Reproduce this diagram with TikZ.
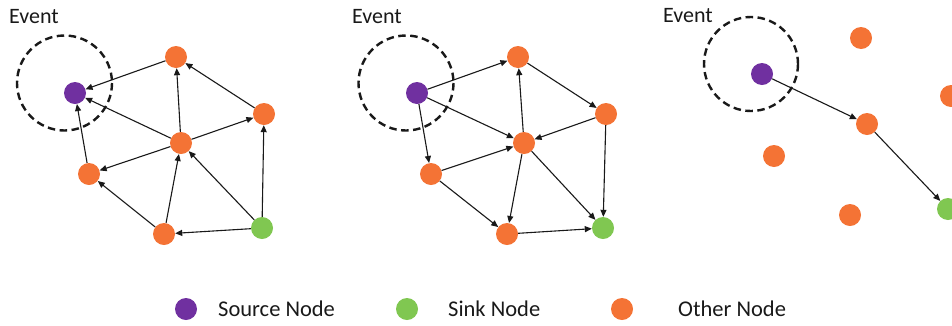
\documentclass[tikz,border=0pt]{standalone}
\usepackage{fontspec}
\setmainfont{Carlito}
\usetikzlibrary{arrows.meta}

\definecolor{srcpurple}{HTML}{7030A0}
\definecolor{sinkgreen}{HTML}{80C751}
\definecolor{otherorange}{HTML}{F47335}

\tikzset{
  dot/.style={circle, inner sep=0pt, minimum size=22pt},
  src/.style={dot, fill=srcpurple},
  sink/.style={dot, fill=sinkgreen},
  other/.style={dot, fill=otherorange},
  link/.style={-{Triangle[length=7pt,width=6pt]}, line width=1.1pt, black!90},
  zone/.style={draw=black!90, line width=2.4pt, dash pattern=on 7.5pt off 4.5pt},
  eventlabel/.style={font=\fontsize{22}{26}\selectfont, text=black!90, inner sep=0pt},
  legendlabel/.style={font=\fontsize{22.5}{26}\selectfont, text=black!90, inner sep=0pt, anchor=west},
}

\begin{document}
\begin{tikzpicture}[x=1pt, y=-1pt]
\useasboundingbox (0,0) rectangle (952,325);
\clip (0,0) rectangle (952,325);

% ---- left network: flooding towards the source ----
\node[eventlabel] (ev1) at (34,17) {Event};
\node[src]   (s1) at (75,93) {};
\node[other] (a1) at (176,57) {};
\node[other] (b1) at (264,114) {};
\node[other] (c1) at (181,143) {};
\node[other] (d1) at (89,174) {};
\node[other] (e1) at (164,234) {};
\node[sink]  (g1) at (262,228) {};
\draw[zone] (64.5,83) circle (47.5);
\draw[link] (a1) -- (s1);
\draw[link] (c1) -- (s1);
\draw[link] (d1) -- (s1);
\draw[link] (c1) -- (a1);
\draw[link] (b1) -- (a1);
\draw[link] (c1) -- (b1);
\draw[link] (c1) -- (d1);
\draw[link] (e1) -- (d1);
\draw[link] (e1) -- (c1);
\draw[link] (g1) -- (c1);
\draw[link] (g1) -- (e1);
\draw[link] (g1) -- (b1);

% ---- middle network: flooding from the source ----
\node[eventlabel] (ev2) at (377,17) {Event};
\node[src]   (s2) at (417,93) {};
\node[other] (a2) at (518,57) {};
\node[other] (b2) at (606,114) {};
\node[other] (c2) at (524,143) {};
\node[other] (d2) at (431,174) {};
\node[other] (e2) at (507,234) {};
\node[sink]  (g2) at (603,228) {};
\draw[zone] (406,83) circle (47.5);
\draw[link] (s2) -- (a2);
\draw[link] (s2) -- (c2);
\draw[link] (s2) -- (d2);
\draw[link] (a2) -- (b2);
\draw[link] (b2) -- (c2);
\draw[link] (c2) -- (a2);
\draw[link] (d2) -- (c2);
\draw[link] (d2) -- (e2);
\draw[link] (c2) -- (e2);
\draw[link] (c2) -- (g2);
\draw[link] (b2) -- (g2);
\draw[link] (e2) -- (g2);

% ---- right network: single routed path ----
\node[eventlabel] (ev3) at (688,16) {Event};
\node[src]   (s3) at (762,74) {};
\node[other] (o31) at (861,38) {};
\node[other] (o32) at (951,96) {};
\node[other] (o33) at (867,124) {};
\node[other] (o34) at (774,156) {};
\node[other] (o35) at (850,215) {};
\node[sink]  (g3) at (948,209) {};
\draw[zone] (751,64) circle (47);
\draw[link] (s3) -- (o33);
\draw[link] (o33) -- (g3);

% ---- legend ----
\node[src]   (ls) at (186,309) {};
\node[legendlabel] (lst) at (218,309) {Source Node};
\node[sink]  (lg) at (407,309) {};
\node[legendlabel] (lgt) at (448,309) {Sink Node};
\node[other] (lo) at (622,309) {};
\node[legendlabel] (lot) at (678,309) {Other Node};
\end{tikzpicture}
\end{document}
